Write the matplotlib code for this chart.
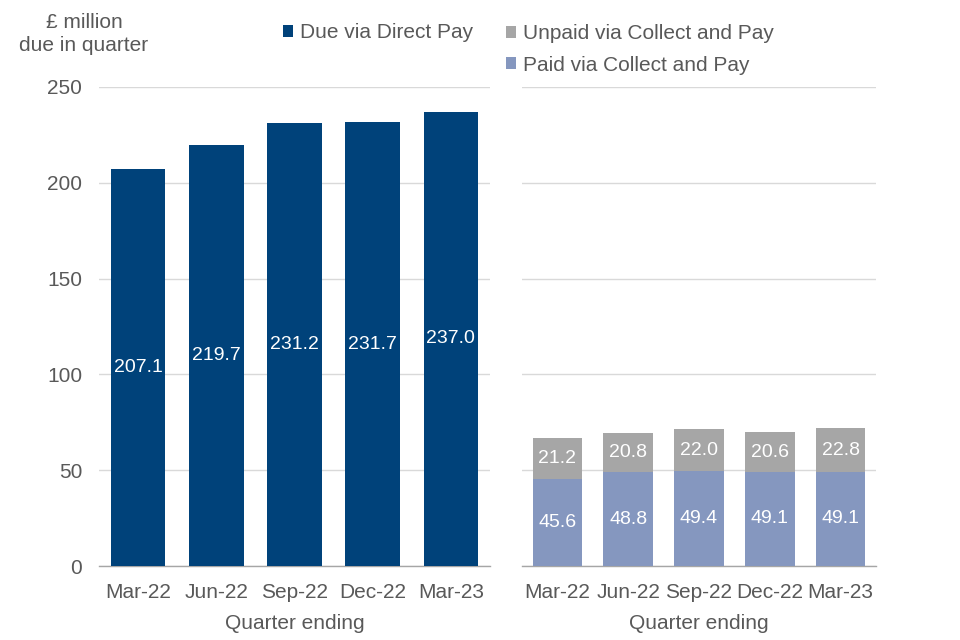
import matplotlib
matplotlib.use("Agg")
import matplotlib.pyplot as plt
import numpy as np

quarters = ["Mar-22", "Jun-22", "Sep-22", "Dec-22", "Mar-23"]
direct_pay = [207.1, 219.7, 231.2, 231.7, 237.0]
paid_cp = [45.6, 48.8, 49.4, 49.1, 49.1]
unpaid_cp = [21.2, 20.8, 22.0, 20.6, 22.8]

DARK = "#00427a"
LIGHT = "#8597bf"
GREY = "#a6a6a6"
TXT = "#595959"
FS = 15
LFS = 14

plt.rcParams['font.family'] = ['Liberation Sans', 'DejaVu Sans']
plt.rcParams['font.size'] = FS

fig = plt.figure(figsize=(9.6, 6.4), dpi=100)
ax1 = fig.add_axes([99/960, 1-566/640, 391/960, 479/640])
ax2 = fig.add_axes([522/960, 1-566/640, 354/960, 479/640])

x = np.arange(len(quarters))
w = 0.7

b1 = ax1.bar(x, direct_pay, w, color=DARK, label="Due via Direct Pay", zorder=3)
for xi, v in zip(x, direct_pay):
    ax1.text(xi, v/2, f"{v:.1f}", ha='center', va='center', color='white', fontsize=LFS, zorder=4)

b_paid = ax2.bar(x, paid_cp, w, color=LIGHT, label="Paid via Collect and Pay", zorder=3)
b_unp = ax2.bar(x, unpaid_cp, w, bottom=paid_cp, color=GREY, label="Unpaid via Collect and Pay", zorder=3)
for xi, p, u in zip(x, paid_cp, unpaid_cp):
    ax2.text(xi, p/2, f"{p:.1f}", ha='center', va='center', color='white', fontsize=LFS, zorder=4)
    ax2.text(xi, p + u/2, f"{u:.1f}", ha='center', va='center', color='white', fontsize=LFS, zorder=4)

for ax in (ax1, ax2):
    ax.set_ylim(0, 250)
    ax.set_xlim(-0.5, len(quarters)-0.5)
    ax.set_yticks(np.arange(0, 251, 50))
    ax.yaxis.grid(True, color="#d9d9d9", linewidth=1, zorder=0)
    ax.set_axisbelow(True)
    for s in ("top", "right", "left"):
        ax.spines[s].set_visible(False)
    ax.spines["bottom"].set_color("#a6a6a6")
    ax.spines["bottom"].set_linewidth(1)
    ax.set_xticks(x)
    ax.set_xticklabels(quarters)
    ax.tick_params(axis='both', length=0, colors=TXT, labelsize=FS)
    ax.tick_params(axis='x', pad=12)
    ax.tick_params(axis='y', pad=12)
    ax.set_xlabel("Quarter ending", color=TXT, fontsize=FS, labelpad=9)

ax2.tick_params(axis='y', labelleft=False)

fig.text(84/960, 1-34/640, "£ million\ndue in quarter", ha='center', va='center',
         color=TXT, fontsize=FS, linespacing=1.25)

leg1 = fig.legend(handles=[b1], loc='center left', bbox_to_anchor=(283/960, 1-33/640),
                  frameon=False, fontsize=FS, handlelength=0.5, handleheight=0.5,
                  handletextpad=0.3, borderpad=0, borderaxespad=0, labelcolor=TXT)
leg2 = fig.legend(handles=[b_unp, b_paid], loc='center left', bbox_to_anchor=(506/960, 1-49.5/640),
                  frameon=False, fontsize=FS, handlelength=0.5, handleheight=0.5,
                  handletextpad=0.3, borderpad=0, borderaxespad=0, labelspacing=0.6, labelcolor=TXT)

fig.savefig("out.png", dpi=100)
